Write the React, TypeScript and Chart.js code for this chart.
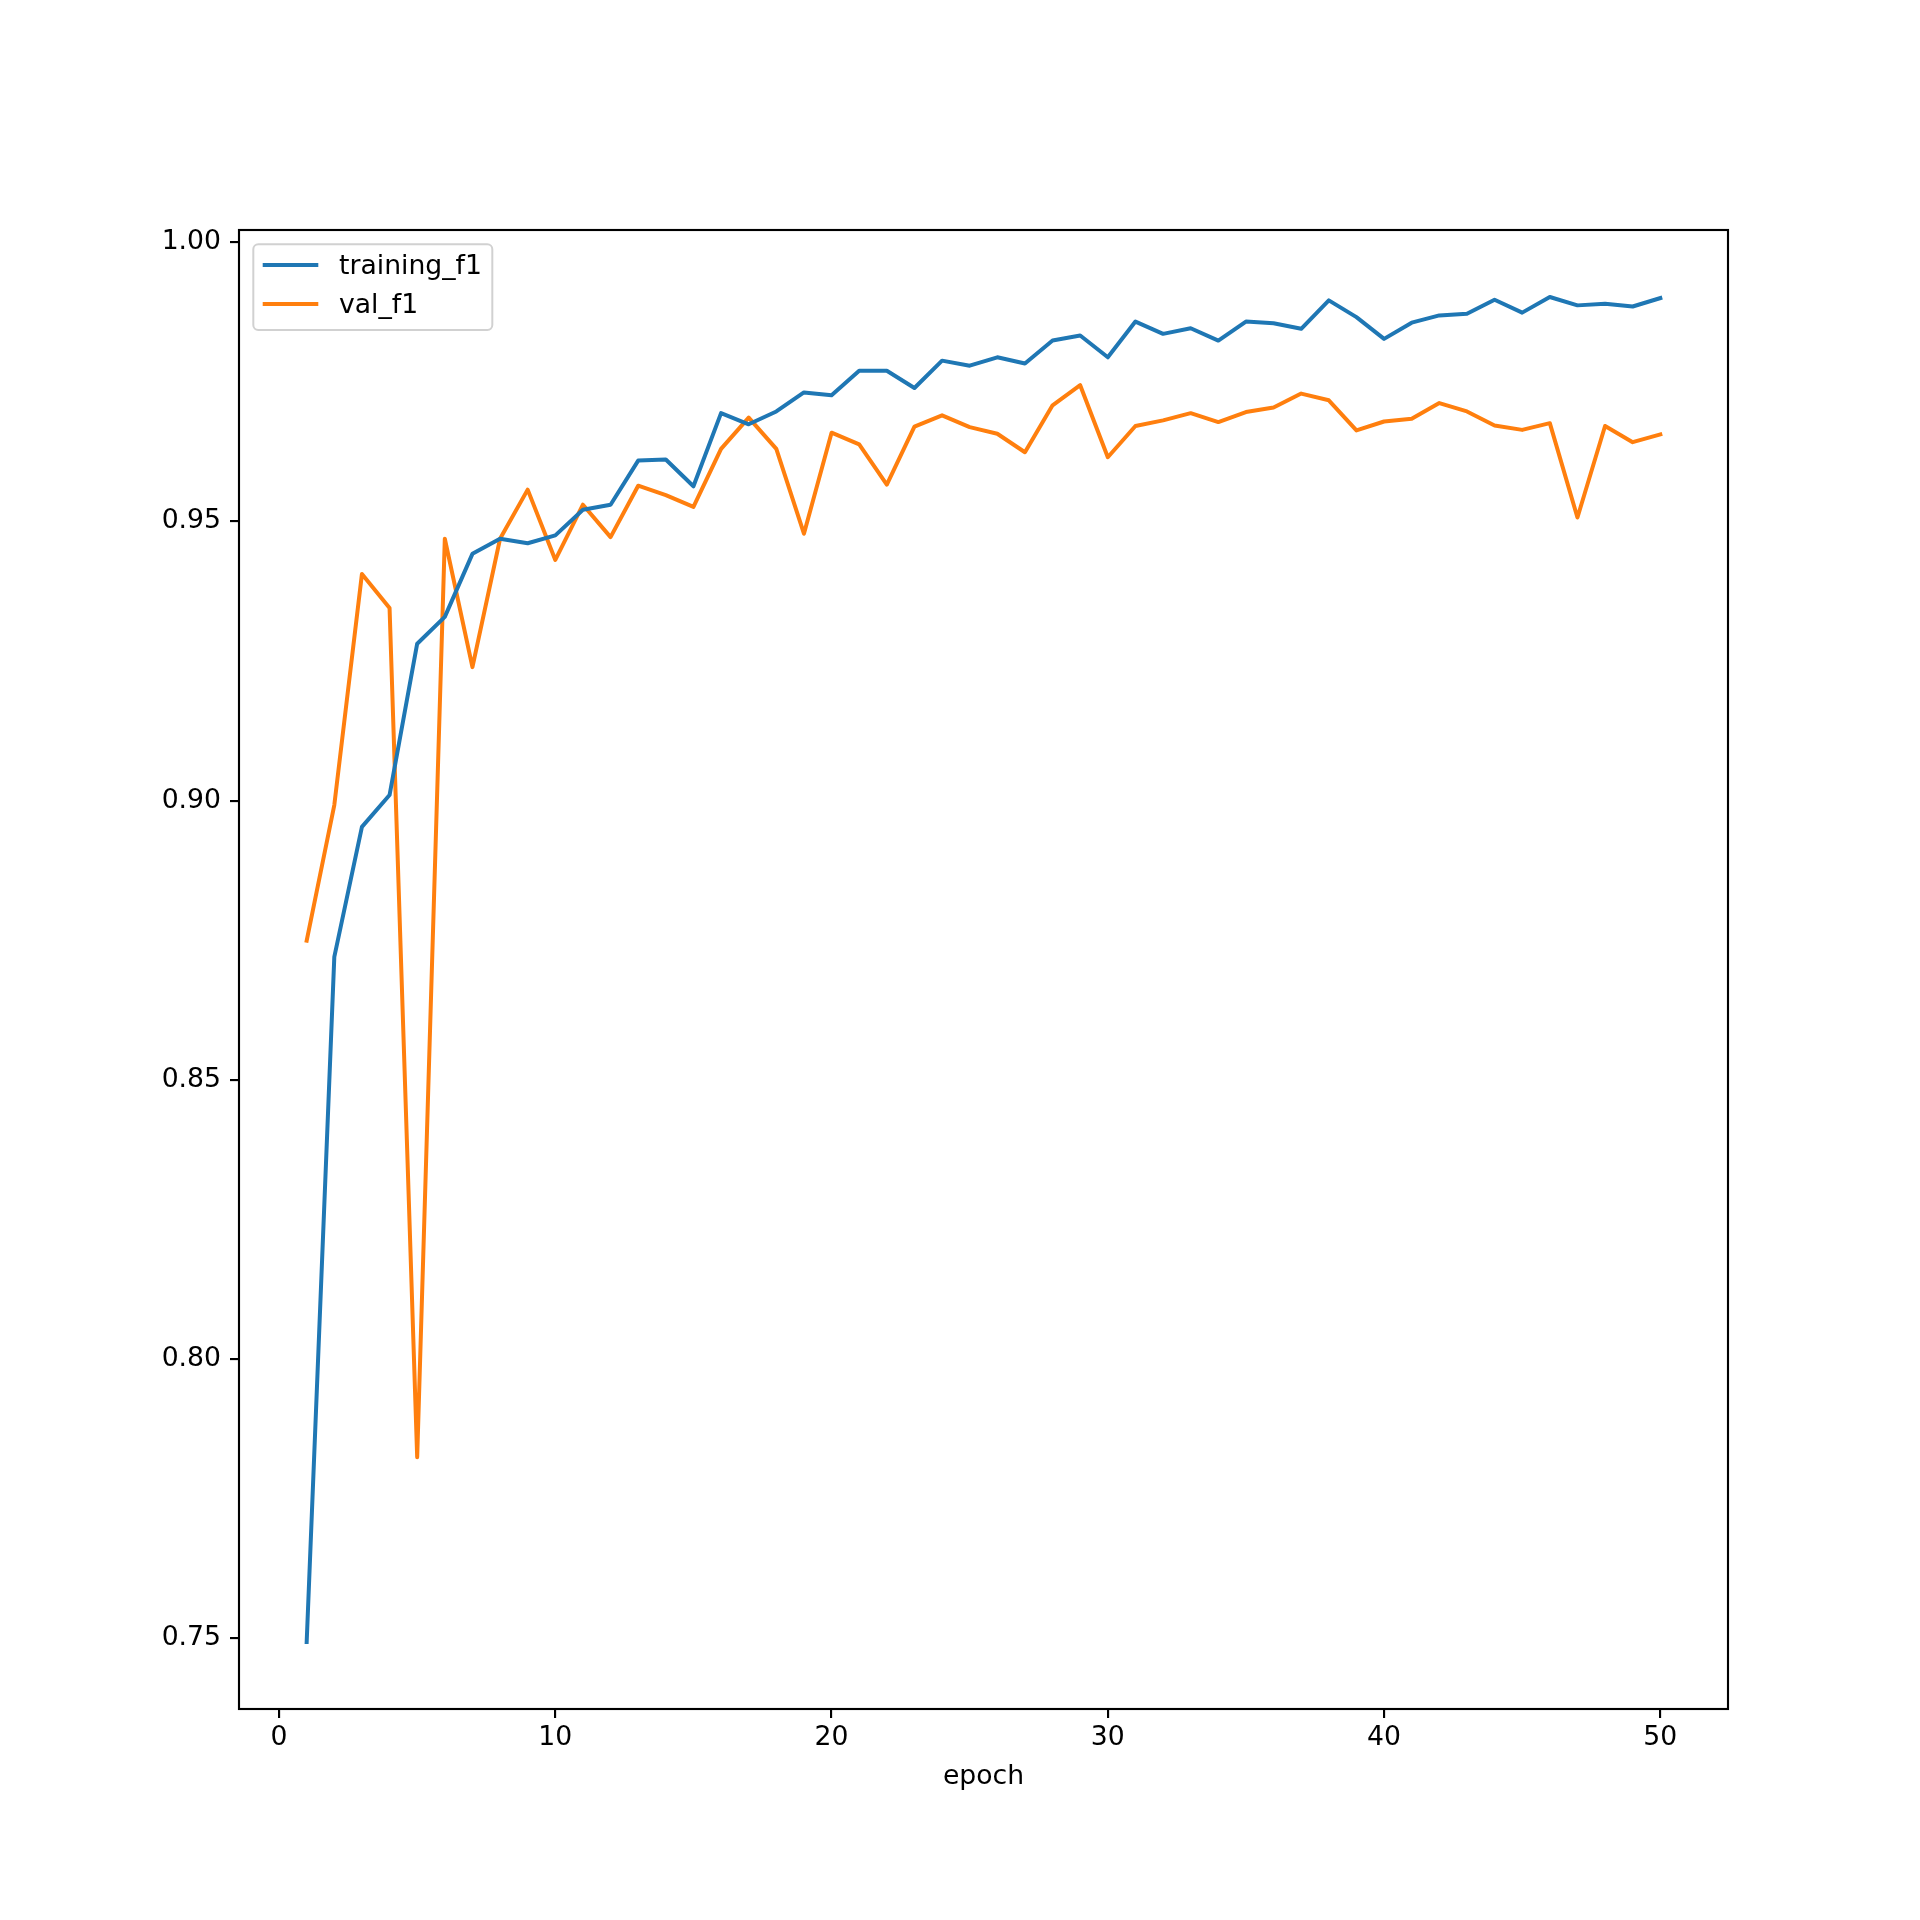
import { useEffect, useRef } from "react"
import { Chart, registerables } from "chart.js"

Chart.register(...registerables)

const epochs = [
  1, 2, 3, 4, 5, 6, 7, 8, 9, 10, 11, 12, 13, 14, 15, 16, 17, 18, 19, 20, 21, 22, 23, 24, 25,
  26, 27, 28, 29, 30, 31, 32, 33, 34, 35, 36, 37, 38, 39, 40, 41, 42, 43, 44, 45, 46, 47, 48,
  49, 50,
]

const trainingF1 = [
  0.7493, 0.872, 0.8953, 0.901, 0.9281, 0.9329, 0.9442, 0.9469, 0.9461, 0.9475, 0.9521, 0.953,
  0.9609, 0.9611, 0.9563, 0.9694, 0.9674, 0.9697, 0.9731, 0.9726, 0.977, 0.977, 0.9739, 0.9788,
  0.9779, 0.9794, 0.9783, 0.9824, 0.9833, 0.9794, 0.9858, 0.9836, 0.9846, 0.9824, 0.9858, 0.9855,
  0.9845, 0.9896, 0.9866, 0.9827, 0.9856, 0.9869, 0.9872, 0.9897, 0.9874, 0.9902, 0.9887, 0.989,
  0.9885, 0.99,
]

const valF1 = [
  0.8749, 0.8992, 0.9406, 0.9345, 0.7824, 0.9469, 0.9239, 0.9469, 0.9557, 0.9431, 0.953, 0.9472,
  0.9564, 0.9547, 0.9526, 0.963, 0.9686, 0.963, 0.9478, 0.9659, 0.9638, 0.9566, 0.967, 0.969,
  0.9669, 0.9657, 0.9624, 0.9708, 0.9744, 0.9615, 0.9671, 0.9681, 0.9694, 0.9678, 0.9696, 0.9704,
  0.9729, 0.9717, 0.9663, 0.9679, 0.9684, 0.9712, 0.9697, 0.9672, 0.9664, 0.9676, 0.9507, 0.9671,
  0.9642, 0.9656,
]

const seriesNames = ["training_f1", "val_f1"]
const seriesColors = ["#1f77b4", "#ff7f0e"]
const xTicks = [0, 10, 20, 30, 40, 50]
const yTicks = [0.75, 0.8, 0.85, 0.9, 0.95, 1.0]

const FONT = "DejaVu Sans"
const FONT_SIZE = 26.67

// axes box + matplotlib style legend, drawn by hand
const framePlugin = {
  id: "frame",
  afterDatasetsDraw(chart: Chart) {
    const { ctx, chartArea } = chart
    ctx.save()
    ctx.strokeStyle = "#000"
    ctx.lineWidth = 2.13
    ctx.strokeRect(chartArea.left, chartArea.top, chartArea.right - chartArea.left, chartArea.bottom - chartArea.top)
    ctx.restore()
  },
  afterDraw(chart: Chart) {
    const { ctx } = chart
    const x0 = 253.3
    const y0 = 244.3
    const w = 239
    const h = 85.7
    const r = 5
    ctx.save()
    ctx.beginPath()
    ctx.roundRect(x0, y0, w, h, r)
    ctx.fillStyle = "rgba(255,255,255,0.8)"
    ctx.fill()
    ctx.strokeStyle = "rgba(204,204,204,0.9)"
    ctx.lineWidth = 2
    ctx.stroke()
    ctx.font = `${FONT_SIZE}px "${FONT}"`
    ctx.textBaseline = "middle"
    ctx.textAlign = "left"
    chart.data.datasets.forEach((ds, i) => {
      const y = 265 + i * 39
      ctx.beginPath()
      ctx.moveTo(262.7, y)
      ctx.lineTo(318.3, y)
      ctx.strokeStyle = ds.borderColor as string
      ctx.lineWidth = 4
      ctx.lineCap = "butt"
      ctx.stroke()
      ctx.fillStyle = "#000"
      ctx.fillText(ds.label as string, 339, y + 2)
    })
    ctx.restore()
  },
}

export default function App() {
  const chartRef = useRef<HTMLCanvasElement>(null)
  const chartInstance = useRef<Chart | null>(null)

  useEffect(() => {
    if (!chartRef.current) return
    if (chartInstance.current) chartInstance.current.destroy()

    const ctx = chartRef.current.getContext("2d")
    if (!ctx) return

    Chart.defaults.font.family = FONT
    Chart.defaults.font.size = FONT_SIZE
    Chart.defaults.color = "#000"

    const seriesValues = [trainingF1, valF1]

    chartInstance.current = new Chart(ctx, {
      type: "line",
      data: {
        datasets: seriesValues.map((vals, i) => ({
          label: seriesNames[i],
          data: epochs.map((e, j) => ({ x: e, y: vals[j] })),
          borderColor: seriesColors[i],
          backgroundColor: seriesColors[i],
          borderWidth: 4,
          pointRadius: 0,
          tension: 0,
          borderJoinStyle: "round",
          borderCapStyle: "square",
        })),
      },
      options: {
        responsive: true,
        maintainAspectRatio: false,
        animation: false,
        layout: { padding: { left: 0, right: 192, top: 230, bottom: 0 } },
        plugins: {
          legend: { display: false },
          title: { display: false },
          tooltip: { enabled: false },
        },
        scales: {
          x: {
            type: "linear",
            min: -1.45,
            max: 52.45,
            afterBuildTicks: (scale) => {
              scale.ticks = xTicks.map((v) => ({ value: v }))
            },
            afterFit: (scale) => {
              scale.height = 211
            },
            ticks: { padding: 4, callback: (v) => String(v), maxRotation: 0 },
            grid: { drawOnChartArea: false, color: "#000", tickLength: 9, lineWidth: 2.13 },
            border: { display: false },
            title: { display: true, text: "epoch", padding: { top: 0, bottom: 127 } },
          },
          y: {
            type: "linear",
            min: 0.7373,
            max: 1.0022,
            afterBuildTicks: (scale) => {
              scale.ticks = yTicks.map((v) => ({ value: v }))
            },
            afterFit: (scale) => {
              scale.width = 239
            },
            ticks: { padding: 9, callback: (v) => Number(v).toFixed(2) },
            grid: { drawOnChartArea: false, color: "#000", tickLength: 9, lineWidth: 2.13 },
            border: { display: false },
          },
        },
      },
      plugins: [framePlugin],
    })

    return () => {
      if (chartInstance.current) {
        chartInstance.current.destroy()
        chartInstance.current = null
      }
    }
  }, [])

  return (
    <div style={{ position: "absolute", left: 0, top: 0, width: 1920, height: 1920, background: "#fff" }}>
      <canvas ref={chartRef} />
    </div>
  )
}
